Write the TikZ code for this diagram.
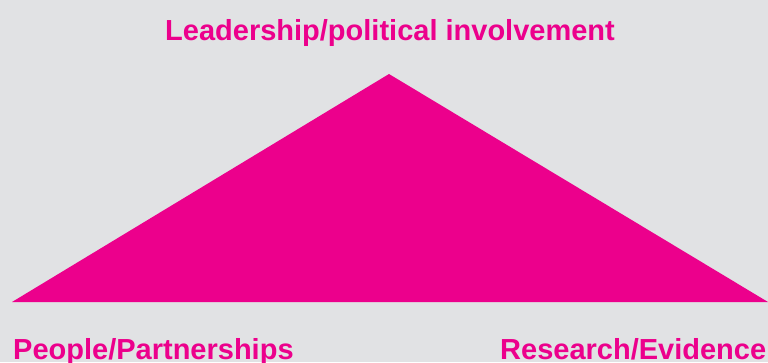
\documentclass[tikz,border=0pt]{standalone}
\usepackage{fontspec}
\setmainfont{Liberation Sans}
\usepackage{tikz}
\usetikzlibrary{positioning}

\definecolor{bgGrey}{HTML}{E1E2E4}
\definecolor{pinkMag}{HTML}{EC008C}

\begin{document}
\begin{tikzpicture}[
  x=1pt, y=1pt,
  lbl/.style={text=pinkMag, font=\bfseries\fontsize{29}{32}\selectfont, inner sep=0pt},
  wedge/.style={fill=pinkMag, draw=none},
]
  % page area
  \fill[bgGrey] (0,0) rectangle (768,-362);
  \useasboundingbox (0,0) rectangle (768,-362);

  \coordinate (apex) at (389,-74);
  \coordinate (bl) at (12,-302);
  \coordinate (br) at (768,-302);
  \fill[wedge] (bl) -- (apex) -- (br) -- cycle;

  \node[lbl, anchor=base] (lead) at (390,-40) {Leadership/political involvement};
  \node[lbl, anchor=base west] (people) at (13,-359) {People/Partnerships};
  \node[lbl, anchor=base west] (research) at (500,-359) {Research/Evidence};
\end{tikzpicture}
\end{document}
